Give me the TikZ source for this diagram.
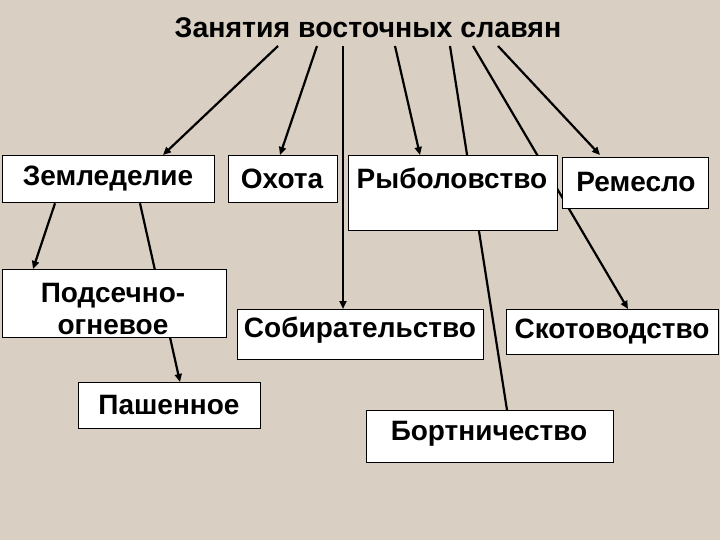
\documentclass[tikz,border=0pt]{standalone}
\usepackage{fontspec}
\setmainfont{Liberation Sans}
\usetikzlibrary{arrows.meta,backgrounds,calc}
\definecolor{bg}{RGB}{217,208,195}
\tikzset{
  box/.style={draw=black, fill=white, line width=1.3pt, inner sep=0pt, anchor=north west},
  lbl/.style={font=\bfseries\fontsize{28}{30}\selectfont, inner sep=0pt, align=center},
  conn/.style={line width=2.2pt, draw=black},
  arr/.style={conn, -{Triangle[length=8pt,width=7pt]}},
}
\begin{document}
\begin{tikzpicture}[x=1pt,y=-1pt]
\useasboundingbox (0,0) rectangle (720,540);
% boxes
\node[box, minimum width=212, minimum height=47] (zem) at (2,155) {};
\node[lbl] (zemt) at (108,179) {Земледелие};
\node[box, minimum width=109, minimum height=47] (oh) at (228,155) {};
\node[lbl] (oht) at (282,179) {Охота};
\node[box, minimum width=209, minimum height=75] (ryb) at (348,155) {};
\node[lbl] (rybt) at (452,178) {Рыболовство};
\node[box, minimum width=146, minimum height=51] (rem) at (562,157) {};
\node[lbl] (remt) at (636,182) {Ремесло};
\node[box, minimum width=224, minimum height=68] (pods) at (2,269) {};
\node[lbl, font=\bfseries\fontsize{28}{32}\selectfont] (podst) at (113,309) {Подсечно-\\огневое};
\node[box, minimum width=246, minimum height=50] (sob) at (237,309) {};
\node[lbl] (sobt) at (360,330) {Собирательство};
\node[box, minimum width=212, minimum height=45] (skot) at (506,309) {};
\node[lbl] (skott) at (612,332) {Скотоводство};
\node[box, minimum width=182, minimum height=46] (pash) at (78,382) {};
\node[lbl] (pasht) at (169,405) {Пашенное};
\node[box, minimum width=247, minimum height=52] (bort) at (366,410) {};
\node[lbl] (bortt) at (489,434) {Бортничество};
% title
\node[font=\bfseries\fontsize{28.5}{30}\selectfont, inner sep=0pt] (title) at (368,28) {Занятия восточных славян};
\coordinate (s1) at (278,46);
\coordinate (s2) at (317,46);
\coordinate (s3) at (343,46);
\coordinate (s4) at (395,46);
\coordinate (s5) at (450,46);
\coordinate (s6) at (473,46);
\coordinate (s7) at (498,46);
\begin{scope}[on background layer]
\fill[bg] (0,0) rectangle (720,540);
\draw[arr] (s1) -- ($(zem.north west)+(161,0)$);
\draw[arr] (s2) -- ($(oh.north west)+(52,0)$);
\draw[arr] (s3) -- ($(sob.north west)+(106,0)$);
\draw[arr] (s4) -- ($(ryb.north west)+(72,0)$);
\draw[conn] (s5) -- ($(bort.north west)+(141,0)$);
\draw[arr] (s6) -- ($(skot.north west)+(122,0)$);
\draw[arr] (s7) -- ($(rem.north west)+(38,-2)$);
\draw[arr] ($(zem.south west)+(53,0)$) -- ($(pods.north west)+(31,0)$);
\draw[arr] ($(zem.south west)+(138,0)$) -- ($(pash.north west)+(102,0)$);
\end{scope}
\end{tikzpicture}
\end{document}
